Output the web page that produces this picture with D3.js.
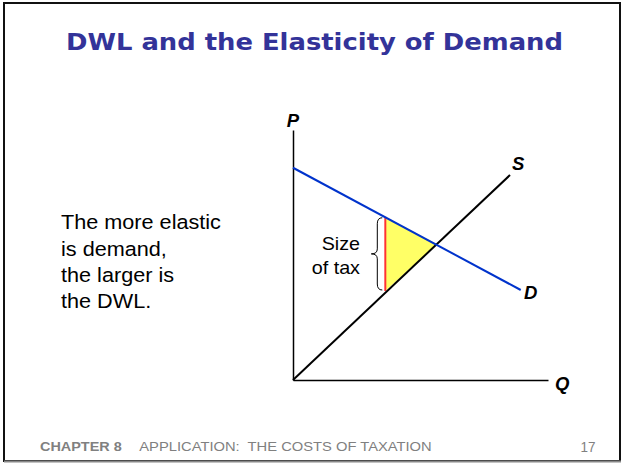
<!DOCTYPE html>
<html>
<head>
<meta charset="utf-8">
<script src="https://cdn.jsdelivr.net/npm/d3@7"></script>
<style>
  html, body { margin: 0; padding: 0; background: #fff; }
  svg { display: block; }
</style>
</head>
<body>
<script>
// ---- data ----
const titleText = "DWL and the Elasticity of Demand";
const bodyLines = ["The more elastic", "is demand,", "the larger is", "the DWL."];
const footerBold = "CHAPTER 8";
const footerText = "APPLICATION:  THE COSTS OF TAXATION";
const pageNumber = "17";
const axisLabels = ["P", "Q"];
const curveLabels = ["S", "D"];
const braceLabels = ["Size", "of tax"];
const demandPts = [[0, 8.49], [8.93, 3.6]];
const supplyPts = [[0, 0], [8.51, 8.2]];
const taxQuantity = 3.62;
const buyerPrice = 6.53;
const sellerPrice = 3.56;
const equilibrium = [5.64, 5.44];

const W = 623, H = 465;
const svg = d3.select("body").append("svg").attr("width", W).attr("height", H);
const SANS = "Arial, 'Liberation Sans', sans-serif";

function fit(sel, w) {
  sel.attr("textLength", w).attr("lengthAdjust", "spacingAndGlyphs");
  return sel;
}

// slide frame
svg.append("rect").attr("x", 4).attr("y", 3).attr("width", 616).attr("height", 458)
  .attr("fill", "#fff").attr("stroke", "#111").attr("stroke-width", 2);
svg.append("line").attr("x1", 4).attr("x2", 621).attr("y1", 461.5).attr("y2", 461.5)
  .attr("stroke", "#888").attr("stroke-width", 2);

// title
svg.append("text").attr("x", 66).attr("y", 49.5)
  .attr("font-family", "'DejaVu Sans', Verdana, sans-serif")
  .attr("font-weight", "bold").attr("font-size", 23.5)
  .attr("fill", "#333399").text(titleText).call(fit, 497);

// body text (slightly wide rendering in the reference)
const body = svg.append("g");
const bodyText = body.selectAll("text").data(bodyLines).join("text")
  .attr("x", 61).attr("y", (d, i) => 229.3 + i * 26.3)
  .attr("font-family", SANS)
  .attr("font-size", 19.5).attr("fill", "#000").text(d => d);
const w0 = bodyText.node().getComputedTextLength();
const sx = 160 / w0;
bodyText.attr("x", 61 / sx);
body.attr("transform", `scale(${sx},1)`);

// footer
svg.append("text").attr("x", 40).attr("y", 451.3)
  .attr("font-family", SANS)
  .attr("font-size", 13.3).attr("font-weight", "bold").attr("fill", "#808080")
  .text(footerBold).call(fit, 81.7);
svg.append("text").attr("x", 139.3).attr("y", 451.3)
  .attr("font-family", SANS)
  .attr("font-size", 13.3).attr("fill", "#808080")
  .attr("xml:space", "preserve").style("white-space", "pre")
  .text(footerText).call(fit, 292.4);
svg.append("text").attr("x", 580.5).attr("y", 451.5)
  .attr("font-family", SANS)
  .attr("font-size", 15.5).attr("fill", "#808080").text(pageNumber).call(fit, 15);

// scales
const x = d3.scaleLinear().domain([0, 10]).range([293, 548]);
const y = d3.scaleLinear().domain([0, 10]).range([380, 130]);
const line = d3.line().x(d => x(d[0])).y(d => y(d[1]));

// DWL triangle
const tri = [[taxQuantity, buyerPrice], equilibrium, [taxQuantity, sellerPrice]];
svg.append("path").attr("d", line(tri) + "Z")
  .attr("fill", "#ffff66").attr("stroke", "none");

// axes
svg.append("g").attr("transform", `translate(0,${y(0)})`)
  .call(d3.axisBottom(x).tickValues([]).tickSizeOuter(0));
svg.append("g").attr("transform", `translate(${x(0)},0)`)
  .call(d3.axisLeft(y).tickValues([]).tickSizeOuter(0));
svg.selectAll(".domain").attr("stroke", "#000").attr("stroke-width", 1.5);

// red tax line
svg.append("path").attr("d", line([[taxQuantity, buyerPrice], [taxQuantity, sellerPrice]]))
  .attr("stroke", "#ff3333").attr("stroke-width", 2).attr("fill", "none");
// supply
svg.append("path").attr("d", line(supplyPts))
  .attr("stroke", "#000").attr("stroke-width", 2).attr("fill", "none");
// demand
svg.append("path").attr("d", line(demandPts))
  .attr("stroke", "#0033cc").attr("stroke-width", 2).attr("fill", "none");

// brace
const bx = x(taxQuantity) - 8, bTop = y(buyerPrice) + 1, bBot = y(sellerPrice) - 1;
const bMid = (bTop + bBot) / 2;
const bp = `M${bx + 5},${bTop} Q${bx},${bTop} ${bx},${bTop + 6} L${bx},${bMid - 5} Q${bx},${bMid} ${bx - 6},${bMid} Q${bx},${bMid} ${bx},${bMid + 5} L${bx},${bBot - 6} Q${bx},${bBot} ${bx + 5},${bBot}`;
svg.append("path").attr("d", bp).attr("fill", "none").attr("stroke", "#000").attr("stroke-width", 1);

const braceW = [38.3, 48.3];
svg.append("g").selectAll("text").data(braceLabels).join("text")
  .attr("x", (d, i) => 360 - braceW[i]).attr("y", (d, i) => 250 + i * 24)
  .attr("font-family", SANS)
  .attr("font-size", 18.5).attr("fill", "#000").text(d => d)
  .attr("textLength", (d, i) => braceW[i]).attr("lengthAdjust", "spacingAndGlyphs");

// axis and curve labels
const lblStyle = sel => sel.attr("font-family", SANS)
  .attr("font-size", 18.5).attr("font-weight", "bold").attr("font-style", "italic").attr("fill", "#000");
svg.append("text").attr("x", x(0)).attr("y", 127).attr("text-anchor", "middle").text(axisLabels[0]).call(lblStyle);
svg.append("text").attr("x", 555).attr("y", 390).text(axisLabels[1]).call(lblStyle);
svg.append("text").attr("x", 512).attr("y", 170).text(curveLabels[0]).call(lblStyle);
svg.append("text").attr("x", 524).attr("y", 299).text(curveLabels[1]).call(lblStyle);
</script>
</body>
</html>
